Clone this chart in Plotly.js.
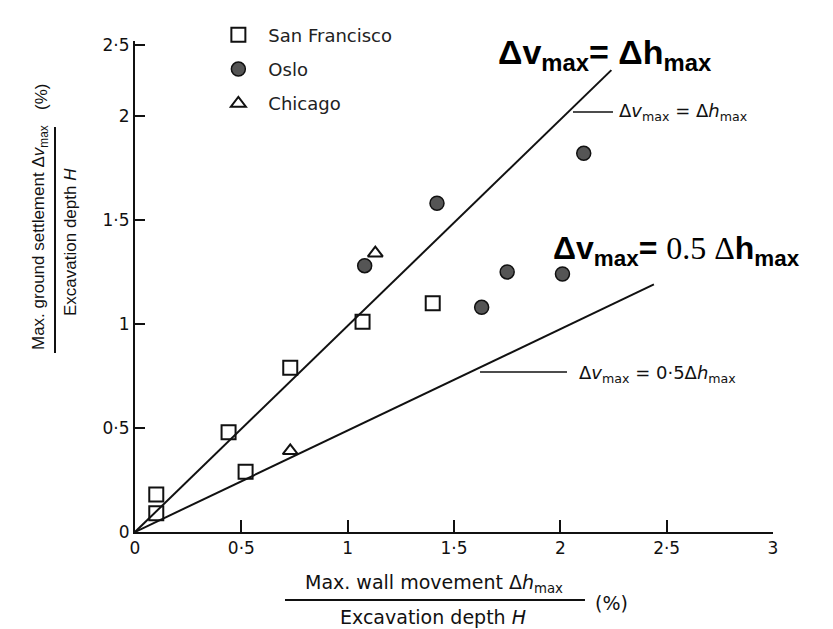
<!DOCTYPE html>
<html>
<head>
<meta charset="utf-8">
<script src="https://cdn.plot.ly/plotly-3.0.1.min.js"></script>
<style>html,body{margin:0;padding:0;background:#fff;}#chart{width:833px;height:629px;}</style>
</head>
<body>
<div id="chart"></div>
<script>
// Data (wall movement / H (%), settlement / H (%))
const sfX = [0.10, 0.10, 0.44, 0.52, 0.73, 1.07, 1.40];
const sfY = [0.18, 0.09, 0.48, 0.29, 0.79, 1.01, 1.10];
const osloX = [1.08, 1.42, 1.63, 1.75, 2.01, 2.11];
const osloY = [1.28, 1.58, 1.08, 1.25, 1.24, 1.82];
const chicagoX = [1.13, 0.73];
const chicagoY = [1.34, 0.39];
// Reference lines
const line1X = [0, 2.24];
const line1Y = [0, 2.22];
const line2X = [0, 2.44];
const line2Y = [0, 1.19];
// Tick labels
const xTickVals = [0, 0.5, 1, 1.5, 2, 2.5, 3];
const xTickText = ['0', '0·5', '1', '1·5', '2', '2·5', '3'];
const yTickVals = [0, 0.5, 1, 1.5, 2, 2.34];
const yTickText = ['0', '0·5', '1', '1·5', '2', '2·5'];

const FONT = 'Liberation Sans, Arial, sans-serif';
const WIDE = 'DejaVu Sans, sans-serif';
const INK = '#111';

const traces = [
  {x: line1X, y: line1Y, mode: 'lines', line: {color: INK, width: 2}, showlegend: false, hoverinfo: 'skip'},
  {x: line2X, y: line2Y, mode: 'lines', line: {color: INK, width: 2}, showlegend: false, hoverinfo: 'skip'},
  {x: sfX, y: sfY, mode: 'markers', name: 'San Francisco', legendgroup: 'a',
   marker: {symbol: 'square-open', size: 14, color: INK, line: {width: 2, color: INK}}},
  {x: osloX, y: osloY, mode: 'markers', name: 'Oslo', legendgroup: 'b',
   marker: {symbol: 'circle', size: 14, color: '#555', line: {width: 1.5, color: '#111'}}},
  {x: chicagoX, y: chicagoY, mode: 'markers', name: 'Chicago', legendgroup: 'c',
   marker: {symbol: 'triangle-up-open', size: 13, color: INK, line: {width: 2, color: INK}}}
];

function ann(x, y, text, size, extra) {
  return Object.assign({xref: 'paper', yref: 'paper', x: x, y: y, text: text, showarrow: false,
    xanchor: 'center', yanchor: 'middle', font: {family: WIDE, size: size, color: INK}}, extra || {});
}

const VFONT = {family: FONT, size: 17, color: INK};

const layout = {
  width: 833, height: 629,
  margin: {l: 135, r: 60, t: 41, b: 97},
  paper_bgcolor: '#fff', plot_bgcolor: '#fff',
  font: {family: WIDE, color: INK, size: 16},
  showlegend: true,
  legend: {x: 0.115, y: 1.05, xanchor: 'left', yanchor: 'top', bgcolor: 'rgba(0,0,0,0)',
           font: {family: WIDE, size: 18, color: '#222'}, itemwidth: 50, tracegroupgap: 8,
           traceorder: 'grouped'},
  xaxis: {range: [0, 3], showgrid: false, zeroline: false, showline: true, linecolor: INK, linewidth: 2,
          ticks: 'inside', ticklen: 12, tickwidth: 2, tickcolor: INK,
          tickvals: xTickVals, ticktext: xTickText, tickfont: {family: WIDE, size: 17, color: INK}, fixedrange: true},
  yaxis: {range: [0, 2.36], showgrid: false, zeroline: false, showline: true, linecolor: INK, linewidth: 2,
          ticks: 'inside', ticklen: 10, tickwidth: 2, tickcolor: INK,
          tickvals: yTickVals, ticktext: yTickText, tickfont: {family: WIDE, size: 17, color: INK}, fixedrange: true},
  shapes: [
    // y-title fraction bar
    {type: 'line', xref: 'paper', yref: 'paper', x0: -0.1254, x1: -0.1254, y0: 0.3646, y1: 0.8248, line: {color: INK, width: 2}},
    // x-title fraction bar
    {type: 'line', xref: 'paper', yref: 'paper', x0: 0.2351, x1: 0.7053, y0: -0.1385, y1: -0.1385, line: {color: INK, width: 2}},
    // leader lines
    {type: 'line', xref: 'paper', yref: 'paper', x0: 0.6865, x1: 0.7492, y0: 0.8554, y1: 0.8554, line: {color: INK, width: 1.5}},
    {type: 'line', xref: 'paper', yref: 'paper', x0: 0.5408, x1: 0.6771, y0: 0.3259, y1: 0.3259, line: {color: INK, width: 1.5}}
  ],
  annotations: [
    // y-axis title (vertical)
    ann(-0.1489, 0.5988, 'Max. ground settlement Δ<i>v</i><sub>max</sub>', 17, {textangle: -90, font: VFONT}),
    ann(-0.1019, 0.5906, 'Excavation depth <i>H</i>', 17, {textangle: -90, font: VFONT}),
    ann(-0.1458, 0.886, '(%)', 17, {textangle: -90, font: VFONT}),
    // x-axis title
    ann(0.4687, -0.1039, 'Max. wall movement Δ<i>h</i><sub>max</sub>', 19),
    ann(0.4671, -0.1731, 'Excavation depth <i>H</i>', 19),
    ann(0.7476, -0.1446, '(%)', 19),
    // small line labels
    ann(0.7555, 0.8554, 'Δ<i>v</i><sub>max</sub> = Δ<i>h</i><sub>max</sub>', 18, {xanchor: 'left'}),
    ann(0.6928, 0.3218, 'Δ<i>v</i><sub>max</sub> = 0·5Δ<i>h</i><sub>max</sub>', 18, {xanchor: 'left'}),
    // big bold labels
    ann(0.7367, 0.9715, '<b>Δv<sub>max</sub>= Δh<sub>max</sub></b>', 34, {font: {family: FONT, size: 34, color: '#000'}}),
    ann(0.848, 0.5743, '<b>Δv<sub>max</sub>=</b> <span style="font-family:Liberation Serif">0.5 Δ</span><b>h<sub>max</sub></b>', 32,
        {font: {family: FONT, size: 32, color: '#000'}})
  ]
};

Plotly.newPlot('chart', traces, layout, {displayModeBar: false, staticPlot: true});
</script>
</body>
</html>
